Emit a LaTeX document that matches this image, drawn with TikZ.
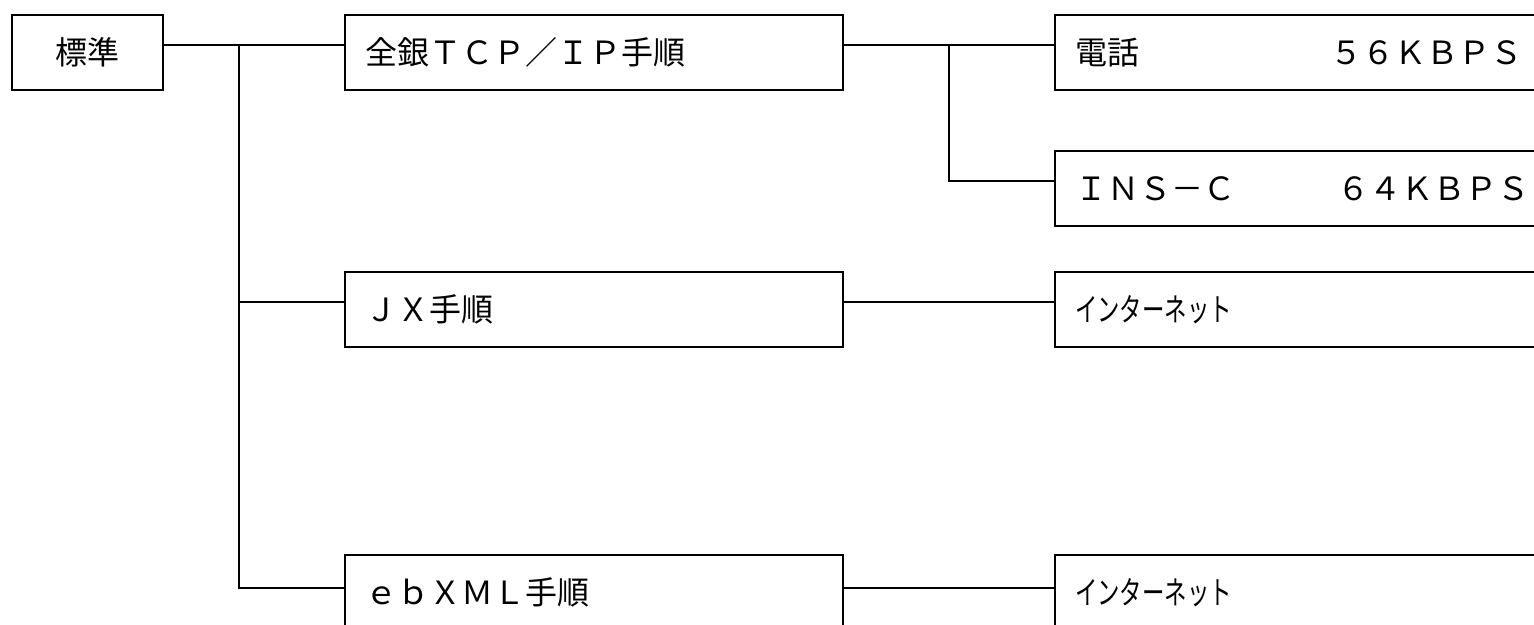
\documentclass[tikz,border=0pt]{standalone}
\usepackage{fontspec}
\setmainfont{Noto Sans CJK JP}
\usepackage{graphicx}

\newcommand{\narrowtext}[1]{\scalebox{0.7}[1]{#1}}

\begin{document}
\begin{tikzpicture}[x=1pt,y=-1pt,font=\fontsize{32}{38}\selectfont]
  \tikzset{stdbox/.style = {shape=rectangle,draw,line width=1.8pt,minimum width=151pt,minimum height=75pt,inner sep=0pt}}
  \tikzset{procbox/.style = {shape=rectangle,draw,line width=1.8pt,minimum height=75pt,inner xsep=20pt,inner ysep=0pt,text width=458pt,align=left}}
  \tikzset{linebox/.style = {procbox,text width=500pt}}
  \tikzset{edge/.style = {line width=1.8pt}}

  \useasboundingbox (0,0) rectangle (1534,624);
  \clip (0,0) rectangle (1534,624);

	\node[stdbox] (STD) at (87.5,52.5) {標準};
	
	\node[procbox] (ZG) at (594,52.5) {全銀ＴＣＰ／ＩＰ手順};
	\node[procbox] (JX) at (594,309.5) {ＪＸ手順};
	\node[procbox] (EB) at (594,592.5) {ｅｂＸＭＬ手順};
	
	\node[linebox] (TEL) at (1325,52.5) {\makebox[255pt][l]{電話}５６ＫＢＰＳ};
	\node[linebox] (INS) at (1325,188.5) {\makebox[262pt][l]{ＩＮＳ－Ｃ}６４ＫＢＰＳ};
	\node[linebox] (NET1) at (1325,309.5) {\narrowtext{インターネット}};
	\node[linebox] (NET2) at (1325,592.5) {\narrowtext{インターネット}};
	
	\coordinate (T1) at (239,45);
	\coordinate (T2) at (949,45);
	
    \foreach \from/\to in {STD/ZG, ZG/TEL, JX/NET1}
    \draw[edge] ([yshift=7.5pt]\from.east) -- ([yshift=7.5pt]\to.west);
    \draw[edge] ([yshift=4.5pt]EB.east) -- ([yshift=4.5pt]NET2.west);
    
    \draw[edge] (T1) |- ([yshift=7.5pt]JX.west);
    \draw[edge] (T1) |- ([yshift=4.5pt]EB.west);
    \draw[edge] (T2) |- ([yshift=7.5pt]INS.west);

\end{tikzpicture}
\end{document}
